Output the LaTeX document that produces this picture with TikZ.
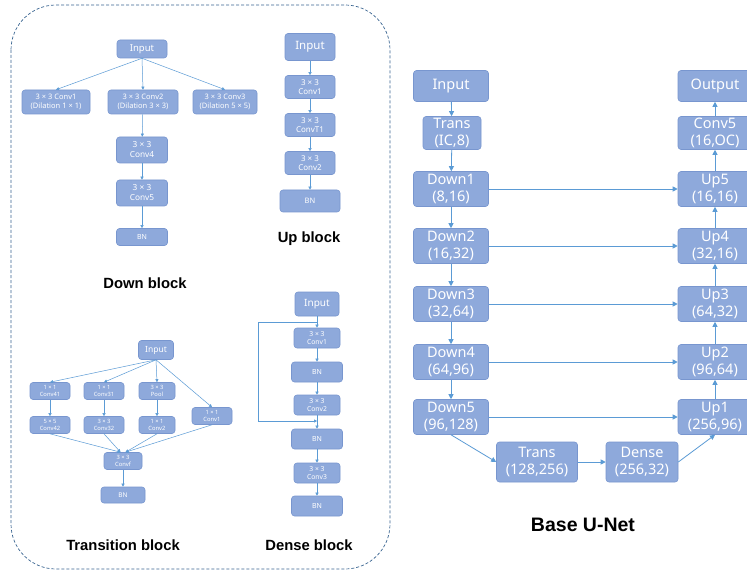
\documentclass[tikz,border=0pt]{standalone}
\usepackage{fontspec}
\setmainfont{Noto Sans}
\newfontfamily\lblfont{Liberation Sans}
\usetikzlibrary{arrows.meta}
\definecolor{boxfill}{HTML}{8EA9DB}
\definecolor{boxdraw}{HTML}{7896CF}
\definecolor{arr}{HTML}{5B9BD5}
\definecolor{dashc}{HTML}{3A6591}
\newcommand\fs[2]{\fontsize{#1}{#2}\selectfont}
\begin{document}
\begin{tikzpicture}[x=1pt,y=-1pt,
  bx/.style={draw=boxdraw, fill=boxfill, rounded corners=3pt, text=white, align=center, inner sep=0pt, line width=0.6pt},
  ar/.style={draw=arr, line width=0.8pt, -{Triangle[length=5pt,width=5pt]}},
  sar/.style={draw=arr, line width=0.5pt, -{Triangle[length=3pt,width=3pt]}},
  lbl/.style={font=\lblfont\bfseries\fs{14.8}{17}, text=black}
  ]
\fill[white] (0,0) rectangle (747,572);
\useasboundingbox (0,0) rectangle (747,572);
\clip (0,0) rectangle (747,572);

% dashed frame
\draw[dashc, dashed, line width=0.7pt, dash pattern=on 3pt off 2pt, rounded corners=45pt] (11,5) rectangle (390,569);

% ---------- Down block ----------
\node[bx, minimum width=50, minimum height=18, font=\fs{9.5}{11}] (dIn) at (142,49) {Input};
\node[bx, minimum width=68, minimum height=24, font=\fs{7.5}{9}] (dC1) at (56,102) {3 × 3 Conv1\\(Dilation 1 × 1)};
\node[bx, minimum width=70, minimum height=24, font=\fs{7.5}{9}] (dC2) at (143,102) {3 × 3 Conv2\\(Dilation 3 × 3)};
\node[bx, minimum width=64, minimum height=24, font=\fs{7.5}{9}] (dC3) at (225,102) {3 × 3 Conv3\\(Dilation 5 × 5)};
\node[bx, minimum width=51, minimum height=26, font=\fs{8.3}{10}] (dC4) at (142,150) {3 × 3\\Conv4};
\node[bx, minimum width=51, minimum height=26, font=\fs{8.3}{10}] (dC5) at (142,193) {3 × 3\\Conv5};
\node[bx, minimum width=51, minimum height=17, font=\fs{7}{8}] (dBN) at (142,237) {BN};
\node[lbl] (dLbl) at (145,283) {Down block};
\draw[sar] (dIn.south) -- (dC1.north);
\draw[sar] (dIn.south) -- (dC2.north);
\draw[sar] (dIn.south) -- (dC3.north);
\draw[sar] (dC2) -- (dC4);
\draw[sar] (dC4) -- (dC5);
\draw[sar] (dC5) -- (dBN);

% ---------- Up block ----------
\node[bx, minimum width=50, minimum height=27, font=\fs{11.5}{13}] (uIn) at (310,47) {Input};
\node[bx, minimum width=50, minimum height=23, font=\fs{8}{9.5}] (uC1) at (310,87) {3 × 3\\Conv1};
\node[bx, minimum width=50, minimum height=23, font=\fs{8}{9.5}] (uCT) at (310,125) {3 × 3\\ConvT1};
\node[bx, minimum width=50, minimum height=23, font=\fs{8}{9.5}] (uC2) at (310,163) {3 × 3\\Conv2};
\node[bx, minimum width=60, minimum height=22, font=\fs{7.5}{9}] (uBN) at (310,201) {BN};
\node[lbl] (uLbl) at (309,239) {Up block};
\draw[sar] (uIn) -- (uC1);
\draw[sar] (uC1) -- (uCT);
\draw[sar] (uCT) -- (uC2);
\draw[sar] (uC2) -- (uBN);

% ---------- Transition block ----------
\node[bx, minimum width=35, minimum height=19, font=\fs{8.5}{10}] (tIn) at (156,350) {Input};
\node[bx, minimum width=40, minimum height=17, font=\fs{5.8}{6.8}] (tC41) at (50,391) {1 × 1\\Conv41};
\node[bx, minimum width=40, minimum height=17, font=\fs{5.8}{6.8}] (tC31) at (104,391) {1 × 1\\Conv31};
\node[bx, minimum width=36, minimum height=17, font=\fs{5.8}{6.8}] (tPool) at (157,391) {3 × 3\\Pool};
\node[bx, minimum width=40, minimum height=17, font=\fs{5.8}{6.8}] (tC1) at (212,416) {1 × 1\\Conv1};
\node[bx, minimum width=40, minimum height=17, font=\fs{5.8}{6.8}] (tC42) at (50,425) {5 × 5\\Conv42};
\node[bx, minimum width=40, minimum height=17, font=\fs{5.8}{6.8}] (tC32) at (104,425) {3 × 3\\Conv32};
\node[bx, minimum width=36, minimum height=17, font=\fs{5.8}{6.8}] (tC2) at (157,425) {1 × 1\\Conv2};
\node[bx, minimum width=38, minimum height=17, font=\fs{5.8}{6.8}] (tCf) at (123,461) {3 × 3\\Convf};
\node[bx, minimum width=44, minimum height=16, font=\fs{6.5}{7.5}] (tBN) at (123,495) {BN};
\node[lbl] (tLbl) at (123,545) {Transition block};
\coordinate (tfL) at ([xshift=-2.5pt]tCf.north);
\coordinate (tfR) at ([xshift=2.5pt]tCf.north);
\draw[sar] (tIn.south) -- (tC41.north);
\draw[sar] (tIn.south) -- (tC31.north);
\draw[sar] (tIn.south) -- (tPool.north);
\draw[sar] (tIn.south) -- (tC1.north);
\draw[sar] (tC41) -- (tC42);
\draw[sar] (tC31) -- (tC32);
\draw[sar] (tPool) -- (tC2);
\draw[sar] (tC42.south) -- (tfL);
\draw[sar] (tC32.south) -- (tfL);
\draw[sar] (tC2.south) -- (tfR);
\draw[sar] (tC1.south) -- (tfR);
\draw[sar] (tCf) -- (tBN);

% ---------- Dense block ----------
\node[bx, minimum width=44, minimum height=24, font=\fs{10}{12}] (eIn) at (317,304) {Input};
\node[bx, minimum width=46, minimum height=20, font=\fs{6.8}{7.8}] (eC1) at (317,338) {3 × 3\\Conv1};
\node[bx, minimum width=51, minimum height=20, font=\fs{7}{8}] (eBN1) at (317,372) {BN};
\node[bx, minimum width=46, minimum height=20, font=\fs{6.8}{7.8}] (eC2) at (317,405) {3 × 3\\Conv2};
\node[bx, minimum width=51, minimum height=20, font=\fs{7}{8}] (eBN2) at (317,439) {BN};
\node[bx, minimum width=46, minimum height=20, font=\fs{6.8}{7.8}] (eC3) at (317,473) {3 × 3\\Conv3};
\node[bx, minimum width=51, minimum height=20, font=\fs{7}{8}] (eBN3) at (317,506) {BN};
\node[lbl] (eLbl) at (309,545) {Dense block};
\draw[sar] (eIn) -- (eC1);
\draw[sar] (eC1) -- (eBN1);
\draw[sar] (eBN1) -- (eC2);
\draw[sar] (eC2) -- (eBN2);
\draw[sar] (eBN2) -- (eC3);
\draw[sar] (eC3) -- (eBN3);
\coordinate (eL1) at (317,322);
\coordinate (eL2) at (317,421);
\draw[sar] (eL1) -- (258,322) -- (258,421) -- (eL2);

% ---------- Base U-Net ----------
\begin{scope}[every node/.append style={font=\fs{14.5}{17}}]
\node[bx, minimum width=75, minimum height=31] (nIn) at (451,86) {Input};
\node[bx, minimum width=58, minimum height=33] (nTr) at (452,133) {Trans\\(IC,8)};
\node[bx, minimum width=75, minimum height=35] (nD1) at (451,189) {Down1\\(8,16)};
\node[bx, minimum width=75, minimum height=35] (nD2) at (451,246) {Down2\\(16,32)};
\node[bx, minimum width=75, minimum height=35] (nD3) at (451,304) {Down3\\(32,64)};
\node[bx, minimum width=75, minimum height=35] (nD4) at (451,362) {Down4\\(64,96)};
\node[bx, minimum width=75, minimum height=35] (nD5) at (451,417) {Down5\\(96,128)};
\node[bx, minimum width=81, minimum height=40] (nT2) at (537,462) {Trans\\(128,256)};
\node[bx, minimum width=72, minimum height=40] (nDe) at (642,462) {Dense\\(256,32)};
\node[bx, minimum width=74, minimum height=31] (nOut) at (715,86) {Output};
\node[bx, minimum width=74, minimum height=33] (nC5) at (715,133) {Conv5\\(16,OC)};
\node[bx, minimum width=74, minimum height=35] (nU5) at (715,189) {Up5\\(16,16)};
\node[bx, minimum width=74, minimum height=35] (nU4) at (715,246) {Up4\\(32,16)};
\node[bx, minimum width=74, minimum height=35] (nU3) at (715,304) {Up3\\(64,32)};
\node[bx, minimum width=74, minimum height=35] (nU2) at (715,362) {Up2\\(96,64)};
\node[bx, minimum width=74, minimum height=35] (nU1) at (715,417) {Up1\\(256,96)};
\end{scope}
\node[font=\lblfont\bfseries\fs{19.5}{22}, text=black] (nLbl) at (583,525) {Base U-Net};
\draw[ar] (nIn) -- (nTr);
\draw[ar] (nTr) -- (nD1);
\draw[ar] (nD1) -- (nD2);
\draw[ar] (nD2) -- (nD3);
\draw[ar] (nD3) -- (nD4);
\draw[ar] (nD4) -- (nD5);
\draw[ar] (nD5.south) -- (nT2.west);
\draw[ar] (nT2) -- (nDe);
\draw[ar] (nDe.east) -- (nU1.south);
\draw[ar] (nU1) -- (nU2);
\draw[ar] (nU2) -- (nU3);
\draw[ar] (nU3) -- (nU4);
\draw[ar] (nU4) -- (nU5);
\draw[ar] (nU5) -- (nC5);
\draw[ar] (nC5) -- (nOut);
\draw[ar] (nD1) -- (nU5);
\draw[ar] (nD2) -- (nU4);
\draw[ar] (nD3) -- (nU3);
\draw[ar] (nD4) -- (nU2);
\draw[ar] (nD5) -- (nU1);
\end{tikzpicture}
\end{document}
